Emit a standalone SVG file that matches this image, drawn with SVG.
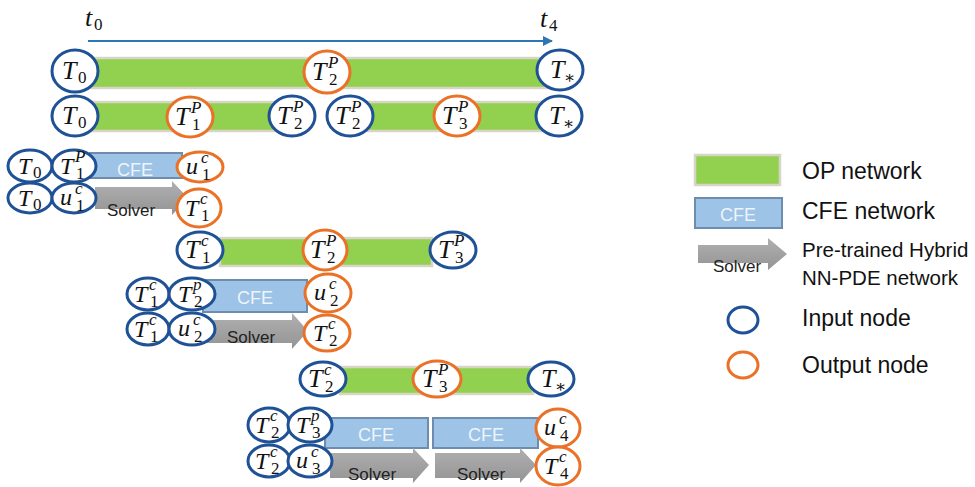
<svg xmlns="http://www.w3.org/2000/svg" width="975" height="487" viewBox="0 0 975 487">
<defs>
<style>
.bg{fill:#ffffff}
.op{fill:#92D050;stroke:#D8D5C6;stroke-width:2.5}
.cfe{fill:#9DC3E6;stroke:#6E8DAE;stroke-width:2}
.solv{fill:url(#gs)}
.in{fill:#ffffff;stroke:#1F5196;stroke-width:3}
.out{fill:#ffffff;stroke:#EA7125;stroke-width:3}
.m{font-family:"Liberation Serif","DejaVu Serif",serif;font-style:italic;font-size:26px;fill:#111}
.ms{font-family:"Liberation Serif","DejaVu Serif",serif;font-style:italic;font-size:24px;fill:#111}
.sp{font-size:17px;font-style:italic}
.sb{font-size:17px;font-style:normal}
.ct{font-family:"Liberation Sans",Arial,sans-serif;font-size:18px;fill:#EEF4FB;text-anchor:middle}
.st{font-family:"Liberation Sans",Arial,sans-serif;font-size:17px;fill:#222}
.lg{font-family:"Liberation Sans",Arial,sans-serif;font-size:23px;fill:#111}
.lg2{font-family:"Liberation Sans",Arial,sans-serif;font-size:20.5px;fill:#111}
.axis{stroke:#2E75B6;stroke-width:2;fill:none}
</style>
<linearGradient id="gs" x1="0" y1="0" x2="0" y2="1">
<stop offset="0" stop-color="#B0B0B0"/>
<stop offset="1" stop-color="#949494"/>
</linearGradient>
<marker id="ah" viewBox="0 0 10 10" refX="9" refY="5" markerWidth="5" markerHeight="5" orient="auto" markerUnits="strokeWidth">
<path d="M0,0 L10,5 L0,10 z" fill="#2E75B6"/>
</marker>
</defs>
<rect class="bg" x="0" y="0" width="975" height="487"/>

<g id="connectors">
<line class="axis" x1="88" y1="41" x2="552" y2="41" marker-end="url(#ah)"/>
</g>
<text class="m" x="85" y="26">t<tspan class="sb" x="94" y="30">0</tspan></text>
<text class="m" x="540" y="27">t<tspan class="sb" x="549" y="31">4</tspan></text>

<g id="networks">
<rect class="op" x="88" y="58" width="459" height="30"/>
<rect class="op" x="88" y="102" width="195" height="29"/>
<rect class="op" x="368" y="102" width="179" height="29"/>
<rect class="op" x="220" y="238" width="212" height="28"/>
<rect class="op" x="340" y="367" width="193" height="27"/>
<rect class="cfe" x="90" y="153" width="92" height="25"/>
<text class="ct" x="135" y="176">CFE</text>
<path class="solv" d="M95,187 H172 V181 L188,198 L172,215 V209 H95 z"/>
<text class="st" x="107" y="216">Solver</text>
<rect class="cfe" x="203" y="280" width="104" height="32"/>
<text class="ct" x="255" y="304">CFE</text>
<path class="solv" d="M207,320 H292 V313 L308,331 L292,349 V343 H207 z"/>
<text class="st" x="227" y="343">Solver</text>
<rect class="cfe" x="325" y="418" width="103" height="30"/>
<text class="ct" x="376" y="441">CFE</text>
<rect class="cfe" x="433" y="418" width="105" height="30"/>
<text class="ct" x="486" y="441">CFE</text>
<path class="solv" d="M330,453 H413 V448 L429,465 L413,483 V478 H330 z"/>
<text class="st" x="348" y="480">Solver</text>
<path class="solv" d="M435,453 H520 V448 L536,465 L520,483 V478 H435 z"/>
<text class="st" x="457" y="480">Solver</text>
</g>

<!-- Row 1 -->
<g id="r1_T0"><ellipse class="in" cx="75" cy="71" rx="23" ry="21"/><text class="m" x="62" y="79">T<tspan class="sb" x="78" y="83">0</tspan></text></g>
<g id="r1_T2P"><ellipse class="out" cx="327" cy="72" rx="23" ry="21"/><text class="m" x="312" y="80">T<tspan class="sp" x="328" y="68">P</tspan><tspan class="sb" x="329" y="85">2</tspan></text></g>
<g id="r1_Ts"><ellipse class="in" cx="560" cy="70" rx="23" ry="20"/><text class="m" x="550" y="78">T<tspan class="sb" x="564" y="83" font-size="13">∗</tspan></text></g>

<!-- Row 2 -->
<g id="r2_T0"><ellipse class="in" cx="75" cy="116" rx="23" ry="20"/><text class="m" x="62" y="124">T<tspan class="sb" x="78" y="128">0</tspan></text></g>
<g id="r2_T1P"><ellipse class="out" cx="190" cy="117" rx="23" ry="20"/><text class="m" x="175" y="125">T<tspan class="sp" x="191" y="113">P</tspan><tspan class="sb" x="192" y="130">1</tspan></text></g>
<g id="r2_T2Pa"><ellipse class="in" cx="292" cy="116" rx="23" ry="20"/><text class="m" x="277" y="124">T<tspan class="sp" x="293" y="112">P</tspan><tspan class="sb" x="294" y="129">2</tspan></text></g>
<g id="r2_T2Pb"><ellipse class="in" cx="350" cy="116" rx="23" ry="20"/><text class="m" x="335" y="124">T<tspan class="sp" x="351" y="112">P</tspan><tspan class="sb" x="352" y="129">2</tspan></text></g>
<g id="r2_T3P"><ellipse class="out" cx="457" cy="116" rx="23" ry="20"/><text class="m" x="442" y="124">T<tspan class="sp" x="458" y="112">P</tspan><tspan class="sb" x="459" y="129">3</tspan></text></g>
<g id="r2_Ts"><ellipse class="in" cx="559" cy="116" rx="23" ry="20"/><text class="m" x="549" y="124">T<tspan class="sb" x="563" y="129" font-size="13">∗</tspan></text></g>

<!-- Row 3 -->
<g id="r3_T0"><ellipse class="in" cx="30" cy="166" rx="22" ry="16"/><text class="ms" x="18" y="174">T<tspan class="sb" x="33" y="178">0</tspan></text></g>
<g id="r3_T1P"><ellipse class="in" cx="74" cy="166" rx="22" ry="16"/><text class="ms" x="60" y="174">T<tspan class="sp" x="75" y="162">P</tspan><tspan class="sb" x="76" y="179">1</tspan></text></g>
<g id="r3_u1c"><ellipse class="out" cx="200" cy="167" rx="23" ry="15"/><text class="ms" x="186" y="174">u<tspan class="sp" x="201" y="163">c</tspan><tspan class="sb" x="202" y="180">1</tspan></text></g>
<g id="r3_T0b"><ellipse class="in" cx="30" cy="198" rx="22" ry="15"/><text class="ms" x="18" y="206">T<tspan class="sb" x="33" y="210">0</tspan></text></g>
<g id="r3_u1cb"><ellipse class="in" cx="74" cy="198" rx="22" ry="15"/><text class="ms" x="60" y="205">u<tspan class="sp" x="75" y="194">c</tspan><tspan class="sb" x="76" y="211">1</tspan></text></g>
<g id="r3_T1c"><ellipse class="out" cx="199" cy="208" rx="22" ry="19"/><text class="ms" x="185" y="216">T<tspan class="sp" x="200" y="204">c</tspan><tspan class="sb" x="201" y="221">1</tspan></text></g>

<!-- Row 4 -->
<g id="r4_T1c"><ellipse class="in" cx="200" cy="250" rx="23" ry="18"/><text class="m" x="185" y="258">T<tspan class="sp" x="201" y="246">c</tspan><tspan class="sb" x="202" y="263">1</tspan></text></g>
<g id="r4_T2P"><ellipse class="out" cx="325" cy="250" rx="22" ry="20"/><text class="m" x="310" y="258">T<tspan class="sp" x="326" y="246">P</tspan><tspan class="sb" x="327" y="263">2</tspan></text></g>
<g id="r4_T3P"><ellipse class="in" cx="453" cy="250" rx="23" ry="18"/><text class="m" x="438" y="258">T<tspan class="sp" x="454" y="246">P</tspan><tspan class="sb" x="455" y="263">3</tspan></text></g>

<!-- Row 5/6 -->
<g id="r5_T1c"><ellipse class="in" cx="148" cy="294" rx="21" ry="16"/><text class="ms" x="134" y="302">T<tspan class="sp" x="149" y="290">c</tspan><tspan class="sb" x="150" y="307">1</tspan></text></g>
<g id="r5_T2p"><ellipse class="in" cx="192" cy="294" rx="23" ry="16"/><text class="ms" x="178" y="302">T<tspan class="sp" x="193" y="290">p</tspan><tspan class="sb" x="194" y="307">2</tspan></text></g>
<g id="r5_u2c"><ellipse class="out" cx="328" cy="293" rx="23" ry="19"/><text class="ms" x="314" y="300">u<tspan class="sp" x="329" y="289">c</tspan><tspan class="sb" x="330" y="306">2</tspan></text></g>
<g id="r6_T1c"><ellipse class="in" cx="148" cy="329" rx="21" ry="16"/><text class="ms" x="134" y="337">T<tspan class="sp" x="149" y="325">c</tspan><tspan class="sb" x="150" y="342">1</tspan></text></g>
<g id="r6_u2c"><ellipse class="in" cx="192" cy="329" rx="23" ry="16"/><text class="ms" x="178" y="336">u<tspan class="sp" x="193" y="325">c</tspan><tspan class="sb" x="194" y="342">2</tspan></text></g>
<g id="r6_T2c"><ellipse class="out" cx="327" cy="333" rx="23" ry="18"/><text class="ms" x="313" y="341">T<tspan class="sp" x="328" y="329">c</tspan><tspan class="sb" x="329" y="346">2</tspan></text></g>

<!-- Row 7 -->
<g id="r7_T2c"><ellipse class="in" cx="323" cy="379" rx="23" ry="17"/><text class="m" x="308" y="387">T<tspan class="sp" x="324" y="375">c</tspan><tspan class="sb" x="325" y="392">2</tspan></text></g>
<g id="r7_T3P"><ellipse class="out" cx="437" cy="379" rx="24" ry="18"/><text class="m" x="422" y="387">T<tspan class="sp" x="438" y="375">P</tspan><tspan class="sb" x="439" y="392">3</tspan></text></g>
<g id="r7_Ts"><ellipse class="in" cx="551" cy="379" rx="23" ry="17"/><text class="m" x="541" y="387">T<tspan class="sb" x="555" y="392" font-size="13">∗</tspan></text></g>

<!-- Row 8/9 -->
<g id="r8_T2c"><ellipse class="in" cx="269" cy="425" rx="21" ry="17"/><text class="ms" x="255" y="433">T<tspan class="sp" x="270" y="421">c</tspan><tspan class="sb" x="271" y="438">2</tspan></text></g>
<g id="r8_T3p"><ellipse class="in" cx="310" cy="425" rx="22" ry="17"/><text class="ms" x="296" y="433">T<tspan class="sp" x="311" y="421">p</tspan><tspan class="sb" x="312" y="438">3</tspan></text></g>
<g id="r8_u4c"><ellipse class="out" cx="558" cy="428" rx="22" ry="19"/><text class="ms" x="544" y="435">u<tspan class="sp" x="559" y="424">c</tspan><tspan class="sb" x="560" y="441">4</tspan></text></g>
<g id="r9_T2c"><ellipse class="in" cx="269" cy="461" rx="21" ry="16"/><text class="ms" x="255" y="469">T<tspan class="sp" x="270" y="457">c</tspan><tspan class="sb" x="271" y="474">2</tspan></text></g>
<g id="r9_u3c"><ellipse class="in" cx="310" cy="461" rx="22" ry="16"/><text class="ms" x="296" y="468">u<tspan class="sp" x="311" y="457">c</tspan><tspan class="sb" x="312" y="474">3</tspan></text></g>
<g id="r9_T4c"><ellipse class="out" cx="558" cy="466" rx="22" ry="19"/><text class="ms" x="544" y="474">T<tspan class="sp" x="559" y="462">c</tspan><tspan class="sb" x="560" y="479">4</tspan></text></g>

<!-- Legend -->
<g id="legend">
<rect class="op" x="695" y="155" width="85" height="30"/>
<text class="lg" x="802" y="179">OP network</text>
<rect class="cfe" x="695" y="198" width="87" height="30"/>
<text class="ct" x="738" y="221">CFE</text>
<text class="lg" x="802" y="219">CFE network</text>
<path class="solv" d="M698,245 H768 V238 L787,254 L768,270 V263 H698 z"/>
<text class="st" x="713" y="272">Solver</text>
<text class="lg2" x="802" y="257">Pre-trained Hybrid</text>
<text class="lg2" x="802" y="285">NN-PDE network</text>
<ellipse class="in" cx="743" cy="320" rx="15" ry="13"/>
<text class="lg" x="802" y="326">Input node</text>
<ellipse class="out" cx="743" cy="365" rx="15" ry="13"/>
<text class="lg" x="802" y="373">Output node</text>
</g>
</svg>
